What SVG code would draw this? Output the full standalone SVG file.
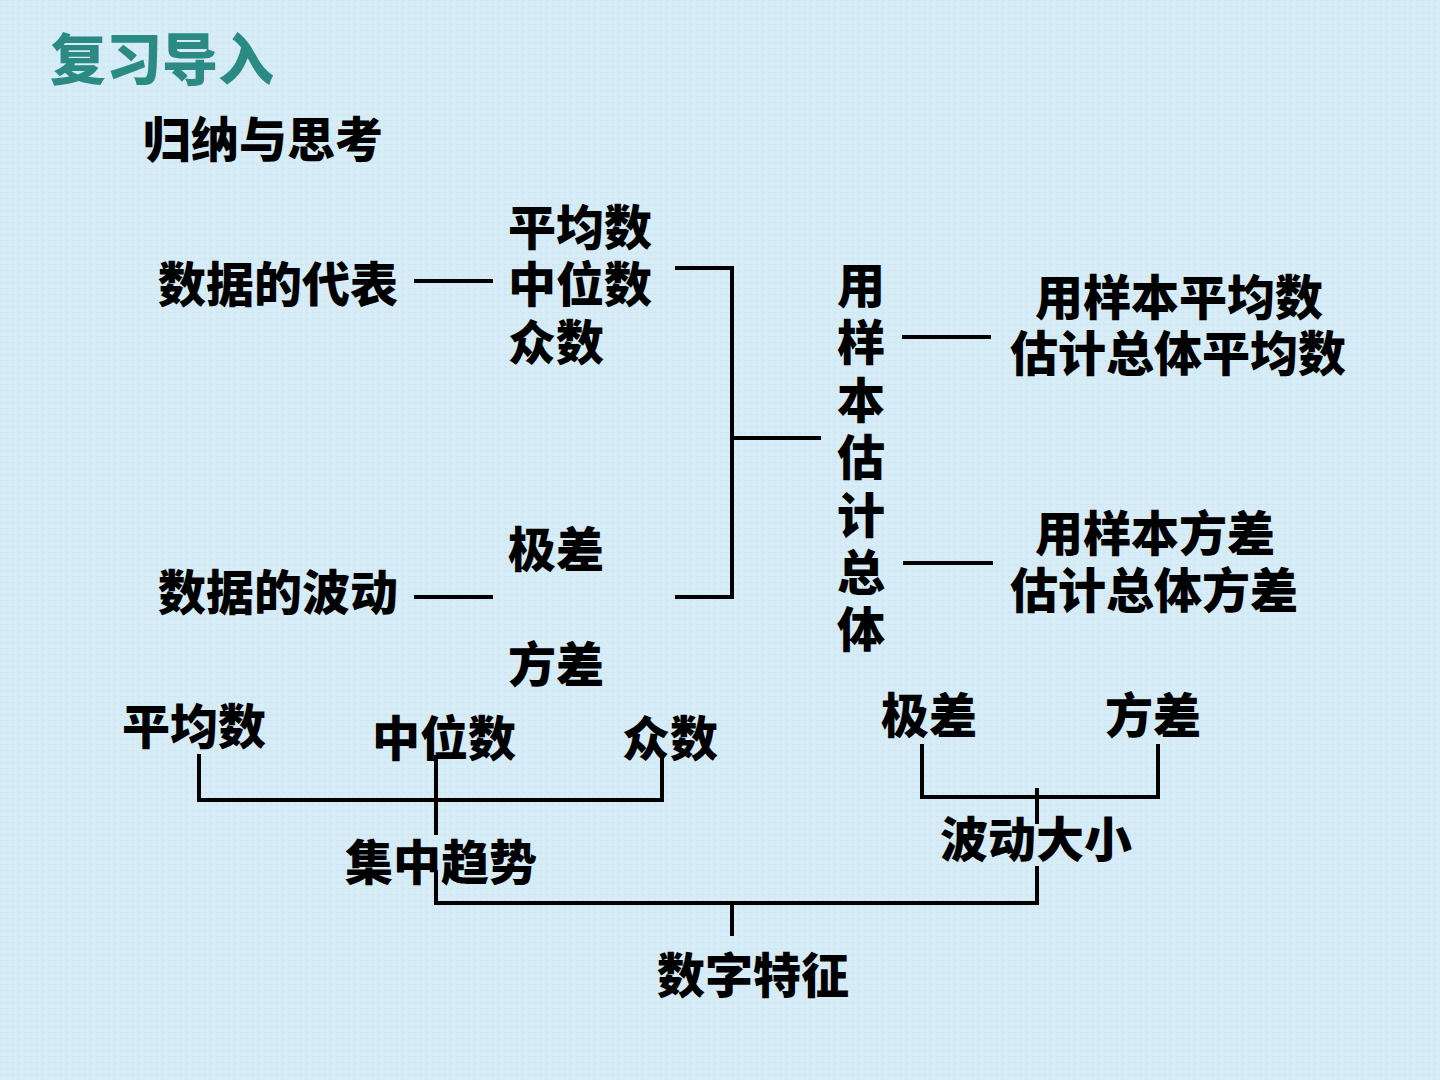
<svg xmlns="http://www.w3.org/2000/svg" width="1440" height="1080" viewBox="0 0 1440 1080">
<defs>
<pattern id="tex" width="6" height="6" patternUnits="userSpaceOnUse">
<rect width="6" height="6" fill="#d5ebf6"/>
<rect x="0" y="0" width="3" height="1" fill="#cfe4ef"/>
<rect x="3" y="3" width="1" height="3" fill="#dcf0fa"/>
</pattern>
<style>
.t{font-family:"Noto Sans CJK SC","Noto Sans",sans-serif;font-weight:900;font-size:48px;fill:#000}
.title{font-family:"Noto Sans CJK SC","Noto Sans",sans-serif;font-weight:900;font-size:56px;fill:#2b8a84}
.ln{stroke:#000;stroke-width:4;fill:none;stroke-linecap:square}
</style>
</defs>
<rect width="1440" height="1080" fill="url(#tex)"/>
<text class="title" x="50" y="80">复习导入</text>
<text class="t" x="143" y="157">归纳与思考</text>

<g id="connectors">
<line class="ln" x1="416" y1="281" x2="491" y2="281"/>
<line class="ln" x1="416" y1="597" x2="491" y2="597"/>
<polyline class="ln" points="677,268 732,268 732,597 677,597"/>
<line class="ln" x1="732" y1="438" x2="819" y2="438"/>
<line class="ln" x1="904" y1="337" x2="989" y2="337"/>
<line class="ln" x1="905" y1="563" x2="991" y2="563"/>
<polyline class="ln" points="199,756 199,800 662,800 662,757"/>
<line class="ln" x1="436" y1="757" x2="436" y2="833"/>
<polyline class="ln" points="436,872 436,903 1037,903 1037,868"/>
<line class="ln" x1="732" y1="903" x2="732" y2="934"/>
<polyline class="ln" points="922,746 922,797 1158,797 1158,746"/>
<line class="ln" x1="1037" y1="790" x2="1037" y2="822"/>
</g>

<g id="n-rep"><text class="t" x="158" y="302">数据的代表</text></g>
<g id="n-fluc"><text class="t" x="158" y="610">数据的波动</text></g>
<g id="n-mean"><text class="t" x="508" y="245">平均数</text></g>
<g id="n-median"><text class="t" x="508" y="302">中位数</text></g>
<g id="n-mode"><text class="t" x="508" y="360">众数</text></g>
<g id="n-range"><text class="t" x="508" y="567">极差</text></g>
<g id="n-var"><text class="t" x="508" y="682">方差</text></g>
<g id="n-est">
<text class="t" x="837" y="303">用</text>
<text class="t" x="837" y="360">样</text>
<text class="t" x="837" y="418">本</text>
<text class="t" x="837" y="475">估</text>
<text class="t" x="837" y="533">计</text>
<text class="t" x="837" y="590">总</text>
<text class="t" x="837" y="647">体</text>
</g>
<g id="n-est-mean">
<text class="t" x="1035" y="315">用样本平均数</text>
<text class="t" x="1010" y="371">估计总体平均数</text>
</g>
<g id="n-est-var">
<text class="t" x="1035" y="551">用样本方差</text>
<text class="t" x="1010" y="608">估计总体方差</text>
</g>
<g id="b-mean"><text class="t" x="122" y="744">平均数</text></g>
<g id="b-median"><text class="t" x="372" y="756">中位数</text></g>
<g id="b-mode"><text class="t" x="622" y="756">众数</text></g>
<g id="b-central"><text class="t" x="345" y="880">集中趋势</text></g>
<g id="b-range"><text class="t" x="881" y="733">极差</text></g>
<g id="b-var"><text class="t" x="1105" y="733">方差</text></g>
<g id="b-spread"><text class="t" x="940" y="857">波动大小</text></g>
<g id="b-features"><text class="t" x="657" y="993">数字特征</text></g>
</svg>
